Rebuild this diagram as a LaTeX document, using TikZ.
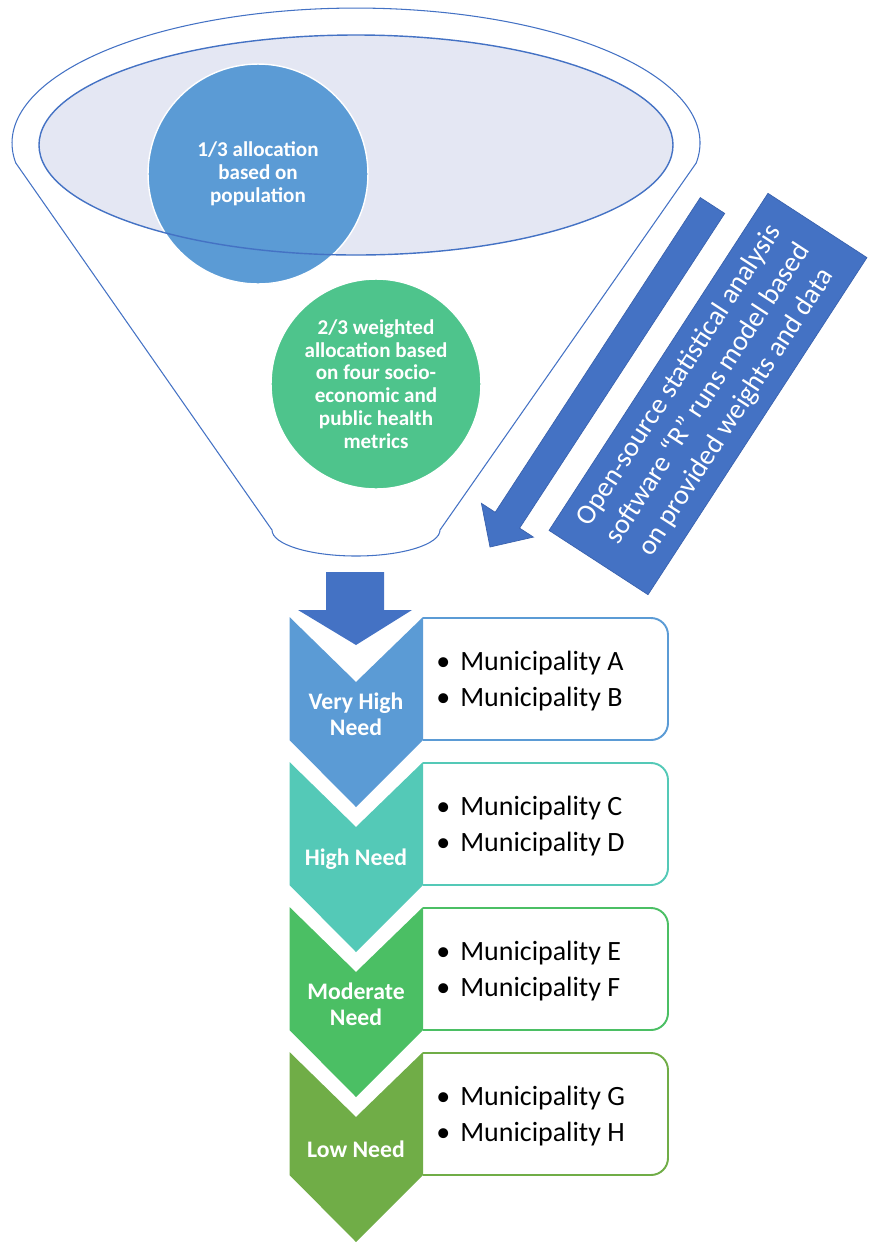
\documentclass[tikz,border=0pt]{standalone}
\usepackage{fontspec}
\setmainfont{Carlito}
\usetikzlibrary{calc}

\definecolor{funnelblue}{HTML}{4472C4}
\definecolor{arrowedge}{HTML}{3A62AE}
\definecolor{lavender}{HTML}{E4E7F3}
\definecolor{popblue}{HTML}{5B9BD5}
\definecolor{metricgreen}{HTML}{4EC48C}
\definecolor{needVH}{HTML}{5B9BD5}
\definecolor{needH}{HTML}{54C9B7}
\definecolor{needM}{HTML}{4BBF64}
\definecolor{needL}{HTML}{70AD47}

\newcommand\bul{\makebox[0.48cm][l]{\textbullet}}

\tikzset{
  bubble/.style={circle, draw=white, line width=0.8pt, text=white, align=center,
    inner sep=0pt, font=\bfseries\fontsize{12}{13}\selectfont},
  needlabel/.style={text=white, align=center, inner sep=0pt,
    font=\bfseries\fontsize{13.5}{14.8}\selectfont},
  itemlist/.style={anchor=west, align=left, inner sep=0pt,
    font=\fontsize{15.9}{20.4}\selectfont},
  modelbox/.style={fill=funnelblue, draw=arrowedge, line width=0.4pt, text=white,
    align=center, inner sep=0pt, font=\fontsize{15.9}{19.4}\selectfont},
}

\begin{document}
\begin{tikzpicture}[x=0.02cm,y=-0.02cm]
  \useasboundingbox (0,0) rectangle (874,1242);

  %%%%% funnel %%%%%
  \draw[funnelblue, line width=0.6pt] (15.8,163) -- (272,530)
    arc[start angle=180, end angle=0, x radius=84, y radius=26] -- (696.2,163)
    arc[start angle=8.5, end angle=-188.5, x radius=344, y radius=135] -- cycle;
  \fill[lavender] (356,145) ellipse[x radius=317, y radius=110];

  \node[bubble, fill=popblue, minimum size=4.4cm] (pop) at (258,174)
    {1/3 allocation\\based on\\population};
  \draw[funnelblue, line width=0.8pt] (356,145) ellipse[x radius=317, y radius=110];

  \node[bubble, fill=metricgreen, minimum size=4.2cm] (metrics) at (376,384)
    {2/3 weighted\\allocation based\\on four socio-\\economic and\\public health\\metrics};

  %%%%% model arrow and box %%%%%
  \filldraw[fill=funnelblue, draw=arrowedge, line width=0.4pt]
    (700.3,197.6) -- (724.7,213.4) -- (519.6,528.1) -- (533.4,537.1)
    -- (490,547) -- (481.4,503.3) -- (495.2,512.3) -- cycle;
  \node[modelbox, rotate=57, minimum width=8.04cm, minimum height=2.36cm] (model) at (708,394)
    {Open-source statistical analysis\\software “R” runs model based\\on provided weights and data};

  %%%%% need levels %%%%%
  \fill[funnelblue] (326,572) -- (384,572) -- (384,610) -- (412,610)
    -- (356,645) -- (298,610) -- (326,610) -- cycle;

  \foreach \i/\col/\lab/\ia/\ib in {0/needVH/{Very High\\Need}/A/B,
      1/needH/{High Need}/C/D, 2/needM/{Moderate\\Need}/E/F, 3/needL/{Low Need}/G/H}{
    \pgfmathsetmacro\yt{617+145*\i}
    \fill[\col] (289.5,\yt) -- (356,\yt+65) -- (423,\yt) -- (423,\yt+123)
      -- (356,\yt+190) -- (289.5,\yt+123) -- cycle;
    \draw[\col, line width=1.1pt, rounded corners=0.34cm]
      (423,\yt+1) -- (668,\yt+1) -- (668,\yt+123) -- (423,\yt+123);
    \node[needlabel] (need\i) at (356,\yt+97) {\lab};
    \node[itemlist] (list\i) at (436,\yt+64)
      {\bul Municipality \ia\\\bul Municipality \ib};
  }
\end{tikzpicture}
\end{document}
